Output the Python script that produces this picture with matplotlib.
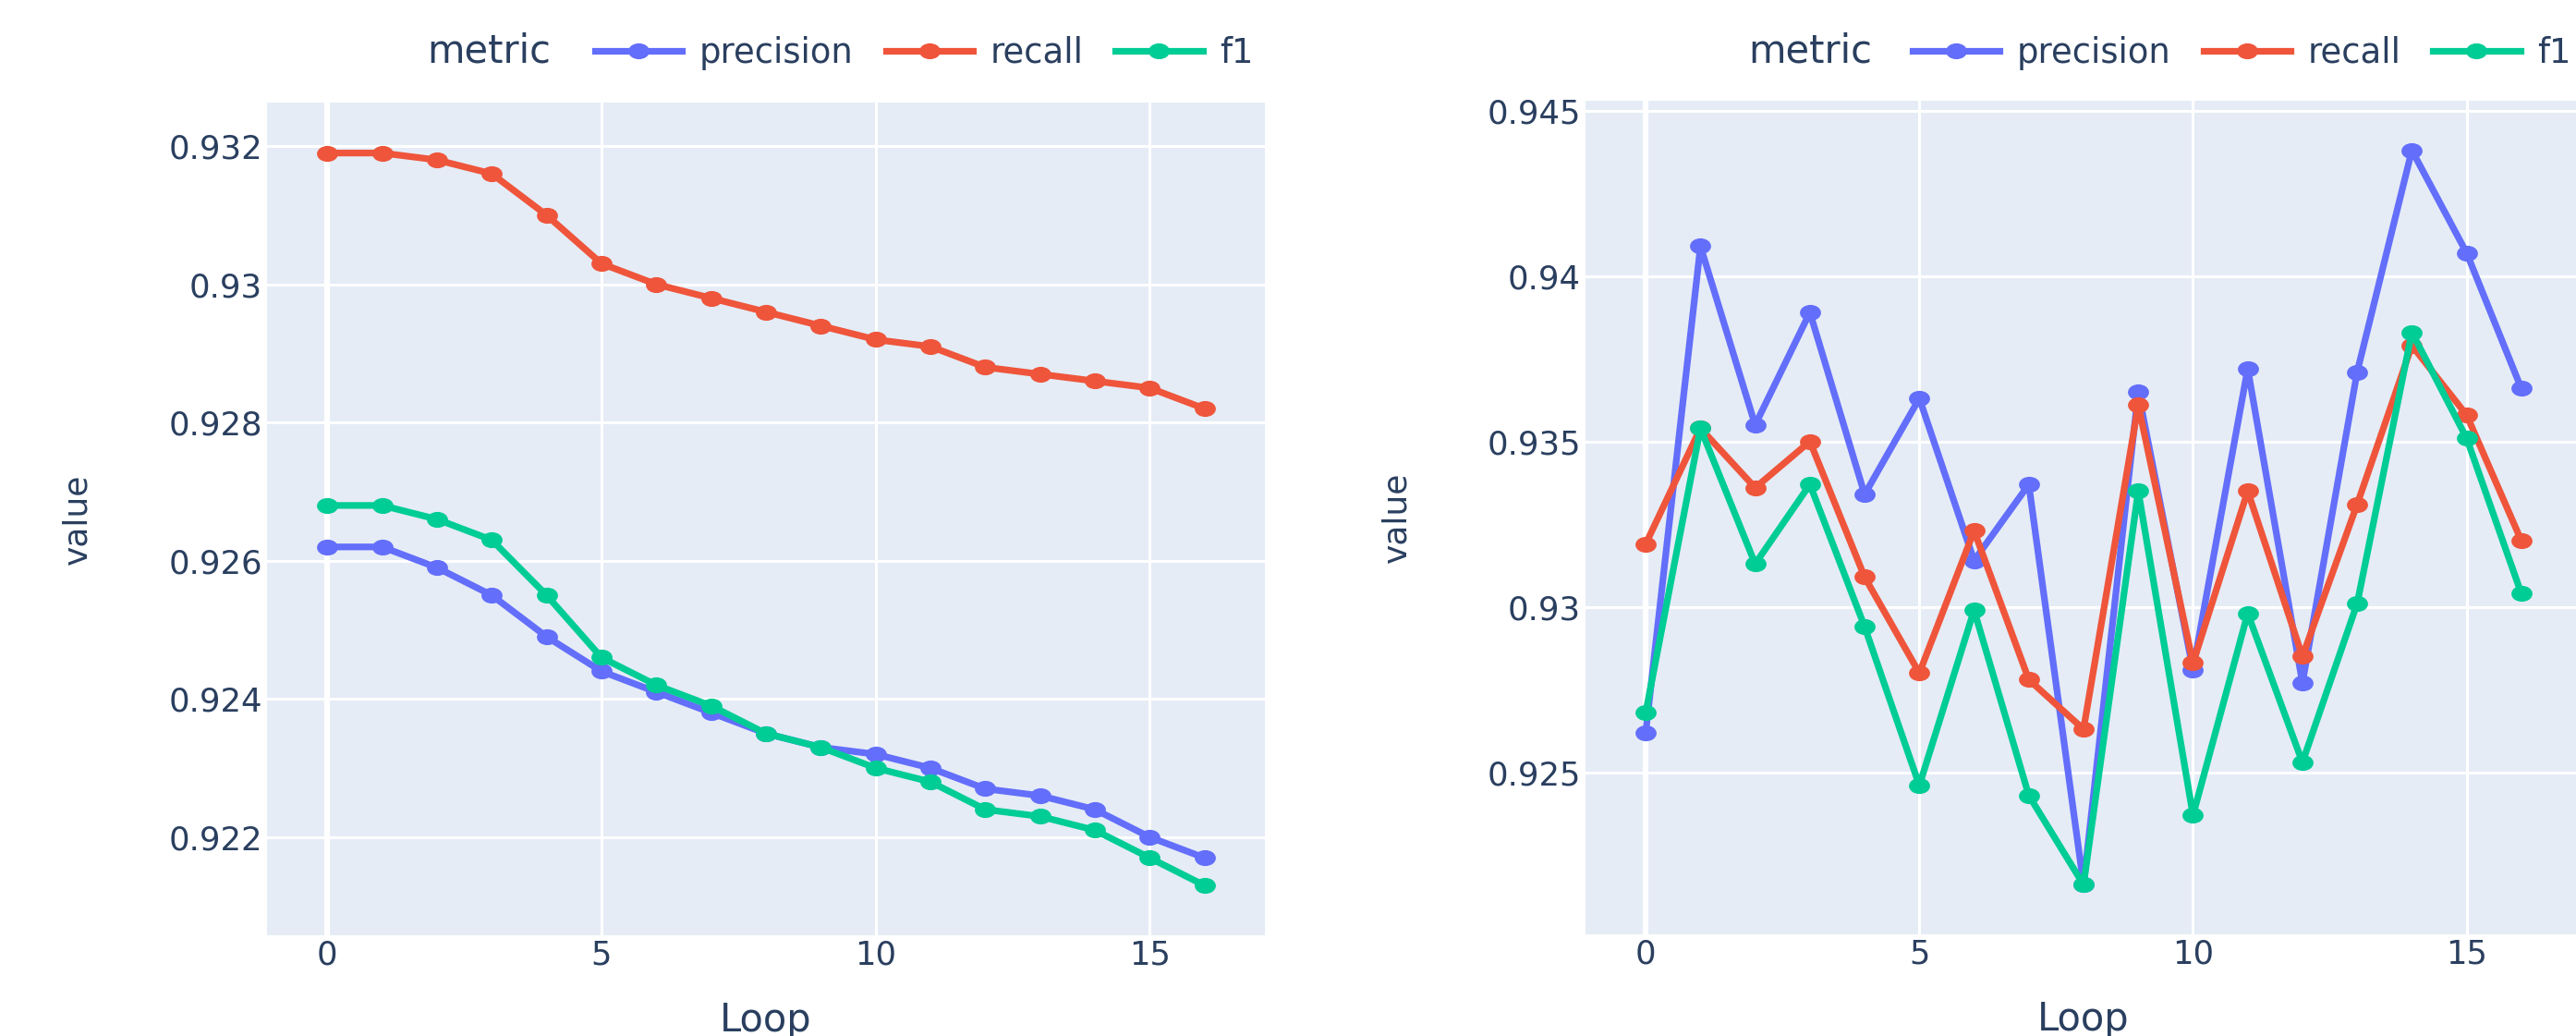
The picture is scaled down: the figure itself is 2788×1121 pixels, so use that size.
import matplotlib
matplotlib.use("Agg")
import matplotlib.pyplot as plt
from matplotlib.path import Path
from matplotlib.transforms import Affine2D

# ---- data -------------------------------------------------------------
loops = [0, 1, 2, 3, 4, 5, 6, 7, 8, 9, 10, 11, 12, 13, 14, 15, 16]

# left panel: smoothed metric trend per loop
trend_precision = [0.9262, 0.9262, 0.9259, 0.9255, 0.9249, 0.9244, 0.9241, 0.9238, 0.9235,
                   0.9233, 0.9232, 0.9230, 0.9227, 0.9226, 0.9224, 0.9220, 0.9217]
trend_recall = [0.9319, 0.9319, 0.9318, 0.9316, 0.9310, 0.9303, 0.9300, 0.9298, 0.9296,
                0.9294, 0.9292, 0.9291, 0.9288, 0.9287, 0.9286, 0.9285, 0.9282]
trend_f1 = [0.9268, 0.9268, 0.9266, 0.9263, 0.9255, 0.9246, 0.9242, 0.9239, 0.9235,
            0.9233, 0.9230, 0.9228, 0.9224, 0.9223, 0.9221, 0.9217, 0.9213]

# right panel: raw metric per loop
raw_precision = [0.9262, 0.9409, 0.9355, 0.9389, 0.9334, 0.9363, 0.9314, 0.9337, 0.9216,
                 0.9365, 0.9281, 0.9372, 0.9277, 0.9371, 0.9438, 0.9407, 0.9366]
raw_recall = [0.9319, 0.9354, 0.9336, 0.9350, 0.9309, 0.9280, 0.9323, 0.9278, 0.9263,
              0.9361, 0.9283, 0.9335, 0.9285, 0.9331, 0.9379, 0.9358, 0.9320]
raw_f1 = [0.9268, 0.9354, 0.9313, 0.9337, 0.9294, 0.9246, 0.9299, 0.9243, 0.9216,
          0.9335, 0.9237, 0.9298, 0.9253, 0.9301, 0.9383, 0.9351, 0.9304]

metric_names = ["precision", "recall", "f1"]
metric_colors = ["#636EFA", "#EF553B", "#00CC96"]

x_ticks = [0, 5, 10, 15]
x_tick_labels = ["0", "5", "10", "15"]

left_y_ticks = [0.922, 0.924, 0.926, 0.928, 0.930, 0.932]
left_y_tick_labels = ["0.922", "0.924", "0.926", "0.928", "0.93", "0.932"]
right_y_ticks = [0.925, 0.930, 0.935, 0.940, 0.945]
right_y_tick_labels = ["0.925", "0.93", "0.935", "0.94", "0.945"]

# ---- style ------------------------------------------------------------
TEXT = "#2a3f5f"
BG = "#E5ECF6"
plt.rcParams["font.family"] = ["DejaVu Sans"]

# slightly wide oval marker
oval = Path.unit_circle().transformed(Affine2D().scale(1.0, 0.72))

fig = plt.figure(figsize=(13.94, 5.605), dpi=200)


def draw_panel(rect, series, ylim, yticks, yticklabels, legend_x, title_x):
    ax = fig.add_axes(rect)
    ax.set_facecolor(BG)
    for sp in ax.spines.values():
        sp.set_visible(False)
    ax.set_axisbelow(True)
    ax.grid(True, color="white", lw=1.1)
    ax.axvline(0, color="white", lw=2.2, zorder=1)

    handles = []
    for vals, name, color in zip(series, metric_names, metric_colors):
        h, = ax.plot(loops, vals, color=color, lw=2.6, marker=oval, ms=7.2,
                     label=name, zorder=2, solid_joinstyle="round")
        handles.append(h)

    ax.set_xlim(-1.1, 17.1)
    ax.set_ylim(*ylim)
    ax.set_xticks(x_ticks)
    ax.set_xticklabels(x_tick_labels)
    ax.set_yticks(yticks)
    ax.set_yticklabels(yticklabels)
    ax.tick_params(axis="both", length=0, labelsize=12.8, labelcolor=TEXT)
    ax.tick_params(axis="y", pad=1.8)
    ax.tick_params(axis="x", pad=1.5)

    ax.set_xlabel("Loop", fontsize=15, color=TEXT, va="center")
    ax.xaxis.set_label_coords(0.5, -0.102)
    ax.set_ylabel("value", fontsize=13, color=TEXT, va="center")
    ax.yaxis.set_label_coords(-0.19, 0.5)

    fig.text(title_x, 1 - 67 / 1121, "metric", fontsize=15, color=TEXT,
             ha="left", va="baseline")
    leg = ax.legend(handles=handles, loc="center left",
                    bbox_to_anchor=(legend_x, 1 - 57 / 1121),
                    bbox_transform=fig.transFigure, ncol=3, frameon=False,
                    fontsize=13.3, handlelength=2.55, handletextpad=0.5,
                    columnspacing=0.95, borderpad=0, borderaxespad=0)
    for t in leg.get_texts():
        t.set_color(TEXT)
    return ax


draw_panel([289 / 2788, 1 - 1012 / 1121, 1080 / 2788, 901 / 1121],
           [trend_precision, trend_recall, trend_f1],
           (0.92058, 0.93263), left_y_ticks, left_y_tick_labels,
           644 / 2788, 462 / 2788)

draw_panel([1716 / 2788, 1 - 1011 / 1121, 1078 / 2788, 902 / 1121],
           [raw_precision, raw_recall, raw_f1],
           (0.9201, 0.9453), right_y_ticks, right_y_tick_labels,
           2070 / 2788, 1892 / 2788)

fig.savefig("out.png", dpi=200, facecolor="white")
